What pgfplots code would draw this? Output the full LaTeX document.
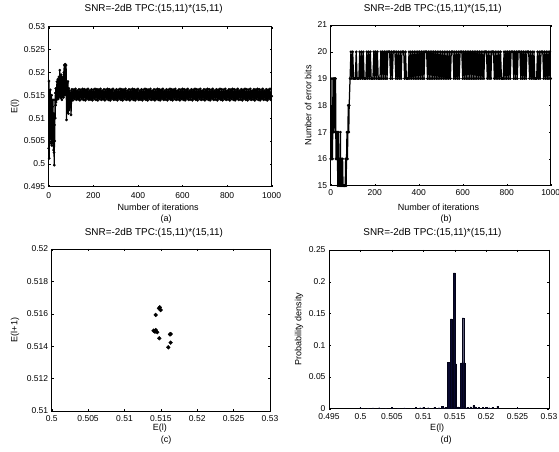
\documentclass[border=0pt]{standalone}
\usepackage{fontspec}
\setmainfont{Liberation Sans}
\usepackage{pgfplots}
\pgfplotsset{compat=1.18}
\definecolor{navy}{RGB}{8,8,48}
\pgfplotsset{
  mystyle/.style={
    scale only axis,
    anchor=south west,
    axis line style={black, line width=0.5pt},
    tick align=inside,
    major tick length=2pt,
    tick style={black, line width=0.4pt},
    scaled ticks=false,
    /pgf/number format/.cd, fixed, precision=3, 1000 sep={}, assume math mode=true,
    /pgfplots/.cd,
    tick label style={font=\fontsize{8.5}{9}\selectfont},
    label style={font=\fontsize{9}{10}\selectfont},
    title style={font=\fontsize{9.9}{11}\selectfont, anchor=center},
    xlabel style={anchor=center},
    ylabel style={anchor=center},
  },
  dotline/.style={black, line width=1.25pt, line join=round, mark=*, mark size=1.25pt, mark options={black, line width=0.3pt}},
}
\begin{document}
\begin{tikzpicture}
\path[use as bounding box] (0,0) rectangle (559pt,452pt);

% (a)
\begin{axis}[mystyle, at={(48.7pt,265.3pt)}, width=223pt, height=160pt,
  xmin=0, xmax=1000, ymin=0.495, ymax=0.53,
  xtick={0,200,400,600,800,1000},
  ytick={0.495,0.5,0.505,0.51,0.515,0.52,0.525,0.53},
  xticklabel style={yshift=-2.8pt},
  title={SNR=-2dB TPC:(15,11)*(15,11)},
  title style={at={(axis description cs:0.471,1.073)}},
  xlabel={Number of iterations},
  xlabel style={at={(axis description cs:0.491,-0.13)}},
  ylabel={E(l)},
  ylabel style={at={(axis description cs:-0.151,0.5)}},
]
\addplot[dotline] coordinates {
(0,.5034)(1,.5181)(2,.5012)(3,.5120)(4,.5060)(5,.5150)(6,.5045)(7,.5162)(8,.5070)(9,.5130)(10,.5055)(11,.5118)(12,.5080)(13,.5150)(14,.5040)(15,.5100)(16,.5052)(17,.5125)(18,.5075)(19,.5140)(20,.5045)(21,.5085)(22,.5030)(23,.5110)(24,.5025)(25,.4997)(26,.5085)(27,.5050)(28,.5140)(29,.5100)(30,.5155)(31,.5128)(32,.5165)(33,.5135)(34,.5150)(35,.5140)(36,.5165)(37,.5180)(38,.5145)(39,.5170)(40,.5150)(41,.5185)(42,.5158)(43,.5142)(44,.5175)(45,.5155)(46,.5190)(47,.5160)(48,.5148)(49,.5178)(50,.5205)(51,.5150)(52,.5170)(53,.5145)(54,.5185)(55,.5160)(56,.5195)(57,.5150)(58,.5175)(59,.5140)(60,.5187)(62,.5155)(64,.5190)(66,.5145)(68,.5200)(70,.5216)(72,.5150)(74,.5218)(76,.5160)(78,.5216)(80,.5096)(82,.5176)(84,.5130)(86,.5180)(88,.5110)(90,.5165)(92,.5118)(94,.5160)(96,.5125)(98,.5155)(100,.5107)
(104,.5163)(108,.5139)(112,.5162)(116,.5142)(120,.5164)(124,.5140)(128,.5160)(132,.5141)(136,.5163)(140,.5139)(144,.5162)(148,.5142)(152,.5164)(156,.5140)
(160,.5163)(164,.5139)(168,.5162)(172,.5142)(176,.5164)(180,.5140)(184,.5160)(188,.5141)(192,.5163)(196,.5139)(200,.5162)(204,.5142)(208,.5164)(212,.5140)
(216,.5163)(220,.5139)(224,.5162)(228,.5142)(232,.5164)(236,.5140)(240,.5160)(244,.5141)(248,.5163)(252,.5139)(256,.5162)(260,.5142)(264,.5164)(268,.5140)
(272,.5163)(276,.5139)(280,.5162)(284,.5142)(288,.5164)(292,.5140)(296,.5160)(300,.5141)(304,.5163)(308,.5139)(312,.5162)(316,.5142)(320,.5164)(324,.5140)
(328,.5163)(332,.5139)(336,.5162)(340,.5142)(344,.5164)(348,.5140)(352,.5160)(356,.5141)(360,.5163)(364,.5139)(368,.5162)(372,.5142)(376,.5164)(380,.5140)
(384,.5163)(388,.5139)(392,.5162)(396,.5142)(400,.5164)(404,.5140)(408,.5160)(412,.5141)(416,.5163)(420,.5139)(424,.5162)(428,.5142)(432,.5164)(436,.5140)
(440,.5163)(444,.5139)(448,.5162)(452,.5142)(456,.5164)(460,.5140)(464,.5160)(468,.5141)(472,.5163)(476,.5139)(480,.5162)(484,.5142)(488,.5164)(492,.5140)
(496,.5163)(500,.5139)(504,.5162)(508,.5142)(512,.5164)(516,.5140)(520,.5160)(524,.5141)(528,.5163)(532,.5139)(536,.5162)(540,.5142)(544,.5164)(548,.5140)
(552,.5163)(556,.5139)(560,.5162)(564,.5142)(568,.5164)(572,.5140)(576,.5160)(580,.5141)(584,.5163)(588,.5139)(592,.5162)(596,.5142)(600,.5164)(604,.5140)
(608,.5163)(612,.5139)(616,.5162)(620,.5142)(624,.5164)(628,.5140)(632,.5160)(636,.5141)(640,.5163)(644,.5139)(648,.5162)(652,.5142)(656,.5164)(660,.5140)
(664,.5163)(668,.5139)(672,.5162)(676,.5142)(680,.5164)(684,.5140)(688,.5160)(692,.5141)(696,.5163)(700,.5139)(704,.5162)(708,.5142)(712,.5164)(716,.5140)
(720,.5163)(724,.5139)(728,.5162)(732,.5142)(736,.5164)(740,.5140)(744,.5160)(748,.5141)(752,.5163)(756,.5139)(760,.5162)(764,.5142)(768,.5164)(772,.5140)
(776,.5163)(780,.5139)(784,.5162)(788,.5142)(792,.5164)(796,.5140)(800,.5160)(804,.5141)(808,.5163)(812,.5139)(816,.5162)(820,.5142)(824,.5164)(828,.5140)
(832,.5163)(836,.5139)(840,.5162)(844,.5142)(848,.5164)(852,.5140)(856,.5160)(860,.5141)(864,.5163)(868,.5139)(872,.5162)(876,.5142)(880,.5164)(884,.5140)
(888,.5163)(892,.5139)(896,.5162)(900,.5142)(904,.5164)(908,.5140)(912,.5160)(916,.5141)(920,.5163)(924,.5139)(928,.5162)(932,.5142)(936,.5164)(940,.5140)
(944,.5163)(948,.5139)(952,.5162)(956,.5142)(960,.5164)(964,.5140)(968,.5160)(972,.5141)(976,.5163)(980,.5139)(984,.5162)(988,.5142)(992,.5164)(996,.5140)
(1000,.5148)
};
\end{axis}

% (b)
\begin{axis}[mystyle, at={(330.7pt,266.3pt)}, width=220pt, height=160.7pt,
  xmin=0, xmax=1000, ymin=15, ymax=21,
  xtick={0,200,400,600,800,1000},
  ytick={15,16,17,18,19,20,21},
  xticklabel style={yshift=-0.5pt},
  title={SNR=-2dB TPC:(15,11)*(15,11)},
  title style={at={(axis description cs:0.464,1.062)}},
  xlabel={Number of iterations},
  xlabel style={at={(axis description cs:0.49,-0.136)}},
  ylabel={Number of error bits},
  ylabel style={at={(axis description cs:-0.102,0.5)}},
]
\addplot[dotline] coordinates {
(0,16)(2,17)(4,16)(6,19)(8,16)(10,18)(12,17)(14,19)(16,18)(18,19)(20,17)(22,19)(24,16)(26,17)(28,16)(30,17)(32,15)(34,17)(36,16)(38,15)(40,16)(42,15)(44,17)(46,15)(48,16)(50,15)(52,15)(54,16)(56,15)(58,15)(60,15)(62,15)(64,15)(66,15)(68,16)(70,15)(72,16)(74,17)(76,16)(78,17)(80,18)(82,17)(84,18)
(88,19)(92,20)(96,19)(100,20)(104,19)(108,19)(112,19)(116,20)(120,19)(124,19)(128,19)(132,20)(136,19)(140,20)(144,19)(148,20)(152,19)(156,19)(160,19)(164,20)(168,19)(172,20)(176,19)(180,20)(184,19)(188,19)(192,19)(196,20)
(200,19)(204,20)(208,19)(212,20)(216,19)(220,19)(224,19)(228,20)(232,19)(236,20)(240,19)(244,20)(248,19)(252,20)(256,19)(260,20)(264,20)(268,20)(272,19)(276,20)(280,19)(284,20)(288,20)(292,20)(296,19)
(300,20)(304,19)(308,20)(312,19)(316,20)(320,19)(324,20)(328,20)(332,20)(336,19)(340,20)(344,19)(348,19)(352,19)(356,20)(360,19)(364,20)(368,19)(372,20)(376,19)(380,20)(384,19)(388,20)(392,19)(396,20)
(400,19)(404,20)(408,19)(412,20)(416,19)(420,20)(424,19)(428,20)(432,20)(436,20)(440,19)(444,20)(448,19)(452,20)(456,19)(460,20)(464,19)(468,20)(472,19)(476,20)(480,19)(484,20)(488,19)(492,20)(496,19)
(500,20)(504,19)(508,20)(512,19)(516,20)(520,19)(524,20)(528,19)(532,20)(536,19)(540,20)(544,19)(548,20)(552,20)(556,20)(560,19)(564,20)(568,19)(572,20)(576,19)(580,20)(584,19)(588,20)(592,20)(596,20)
(600,19)(604,20)(608,19)(612,20)(616,19)(620,20)(624,19)(628,20)(632,19)(636,20)(640,19)(644,20)(648,19)(652,20)(656,19)(660,20)(664,19)(668,20)(672,19)(676,20)(680,19)(684,20)(688,19)(692,20)(696,19)
(700,20)(704,20)(708,20)(712,19)(716,20)(720,19)(724,20)(728,19)(732,20)(736,20)(740,20)(744,19)(748,20)(752,19)(756,20)(760,19)(764,20)(768,19)(772,20)(776,19)(780,19)(784,19)(788,20)(792,19)(796,20)
(800,19)(804,20)(808,19)(812,20)(816,19)(820,20)(824,20)(828,20)(832,19)(836,20)(840,19)(844,20)(848,19)(852,20)(856,20)(860,20)(864,19)(868,20)(872,19)(876,20)(880,19)(884,20)(888,19)(892,20)(896,20)
(900,20)(904,19)(908,20)(912,19)(916,20)(920,19)(924,20)(928,19)(932,19)(936,19)(940,20)(944,19)(948,20)(952,19)(956,20)(960,20)(964,20)(968,19)(972,20)(976,19)(980,20)(984,19)(988,20)(992,19)(996,20)
(1000,19)
};
\end{axis}

% (c)
\begin{axis}[mystyle, at={(51.7pt,41pt)}, width=218.3pt, height=162pt,
  xmin=0.5, xmax=0.53, ymin=0.51, ymax=0.52,
  xtick={0.5,0.505,0.51,0.515,0.52,0.525,0.53},
  ytick={0.51,0.512,0.514,0.516,0.518,0.52},
  xticklabel style={yshift=-1.2pt},
  title={SNR=-2dB TPC:(15,11)*(15,11)},
  title style={at={(axis description cs:0.468,1.06)}},
  xlabel={E(l)},
  xlabel style={at={(axis description cs:0.496,-0.105)}},
  ylabel={E(l+1)},
  ylabel style={at={(axis description cs:-0.168,0.5)}},
]
\addplot[only marks, mark=*, mark size=1.9pt, black] coordinates {
(0.51474,0.51634)(0.51429,0.51593)(0.51498,0.51623)(0.51485,0.51640)(0.51400,0.51496)(0.51419,0.51490)(0.51430,0.51500)(0.51451,0.51486)(0.51479,0.51449)(0.51626,0.51473)(0.51635,0.51475)(0.51635,0.51422)(0.51602,0.51393)
};
\end{axis}

% (d)
\begin{axis}[mystyle, at={(329pt,43.3pt)}, width=220pt, height=158.7pt,
  xmin=0.495, xmax=0.53, ymin=0, ymax=0.25,
  xtick={0.495,0.5,0.505,0.51,0.515,0.52,0.525,0.53},
  ytick={0,0.05,0.1,0.15,0.2,0.25},
  xticklabel style={yshift=-1.5pt},
  title={SNR=-2dB TPC:(15,11)*(15,11)},
  title style={at={(axis description cs:0.47,1.067)}},
  xlabel={E(l)},
  xlabel style={at={(axis description cs:0.492,-0.122)}},
  ylabel={Probability density},
  ylabel style={at={(axis description cs:-0.136,0.5)}},
]
\addplot[ybar interval, fill=navy, draw=navy!50!black, line width=0.4pt] coordinates {
(0.51388,0.0728)(0.51432,0.1415)(0.51458,0.0728)(0.51478,0.2138)(0.51509,0.0708)(0.51531,0)(0.51545,0.003)(0.51565,0)(0.51595,0.072)(0.51616,0.143)(0.51643,0.072)(0.51668,0)
};
\addplot[ybar, bar width=0.0002, fill=navy, draw=navy!50!black, line width=0.3pt] coordinates {
(0.5000,0.0015)(0.5012,0.001)(0.5020,0.0012)(0.5030,0.0015)(0.5040,0.001)(0.5050,0.0018)(0.5060,0.001)(0.5070,0.0012)(0.5080,0.001)(0.5088,0.0025)(0.5095,0.0015)(0.5100,0.002)(0.5108,0.0015)(0.5118,0.0025)(0.5125,0.0015)(0.5130,0.004)(0.5135,0.002)(0.5170,0.002)(0.5175,0.003)(0.5180,0.005)(0.5183,0.003)(0.5188,0.002)(0.5195,0.002)(0.5200,0.0025)(0.5205,0.0015)(0.5210,0.002)(0.5218,0.004)(0.5250,0.001)
};
\end{axis}

\node[font=\fontsize{9}{10}\selectfont] at (166pt,233pt) {(a)};
\node[font=\fontsize{9}{10}\selectfont] at (446pt,233pt) {(b)};
\node[font=\fontsize{9}{10}\selectfont] at (166pt,12pt) {(c)};
\node[font=\fontsize{9}{10}\selectfont] at (446pt,12pt) {(d)};
\end{tikzpicture}
\end{document}
